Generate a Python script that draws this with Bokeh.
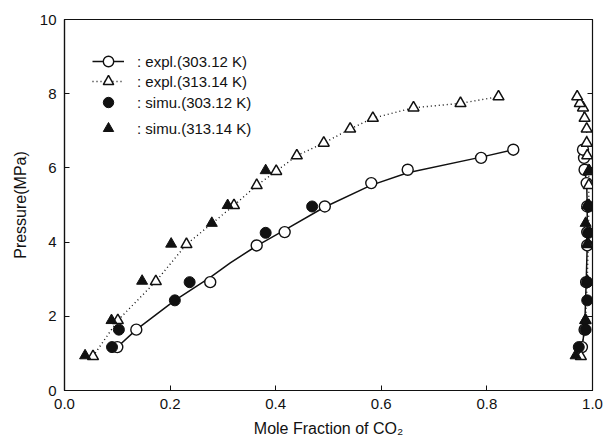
from bokeh.plotting import figure
from bokeh.models import Range1d, LinearAxis, FixedTicker, Legend, LegendItem, NumeralTickFormatter, CustomJSTickFormatter
from bokeh.embed import file_html
from bokeh.resources import INLINE

# ---- data ----
# experimental, 303.12 K, liquid branch (open circles)
exp303_liq_x = [0.100, 0.136, 0.276, 0.364, 0.417, 0.493, 0.581, 0.650, 0.789, 0.850]
exp303_liq_p = [1.17, 1.64, 2.92, 3.91, 4.27, 4.96, 5.59, 5.95, 6.27, 6.49]
# experimental, 303.12 K, vapour branch
exp303_vap_x = [0.980, 0.985, 0.988, 0.990, 0.990, 0.990, 0.989, 0.985, 0.984, 0.982]
exp303_vap_p = [1.17, 1.64, 2.92, 3.91, 4.27, 4.96, 5.59, 5.95, 6.27, 6.49]
# smooth curve drawn through 303.12 K liquid data (solid line)
fit303_x = [0.093, 0.136, 0.209, 0.276, 0.314, 0.364, 0.415, 0.492, 0.580, 0.650, 0.789, 0.850]
fit303_p = [1.08, 1.64, 2.43, 3.05, 3.44, 3.90, 4.31, 4.94, 5.53, 5.87, 6.29, 6.49]

# experimental, 313.14 K, liquid branch (open triangles)
exp313_liq_x = [0.054, 0.101, 0.173, 0.231, 0.321, 0.364, 0.401, 0.440, 0.491, 0.541, 0.584, 0.661, 0.750, 0.822]
exp313_liq_p = [0.92, 1.89, 2.94, 3.94, 4.99, 5.53, 5.91, 6.33, 6.67, 7.05, 7.34, 7.62, 7.74, 7.92]
# experimental, 313.14 K, vapour branch
exp313_vap_x = [0.978, 0.987, 0.990, 0.992, 0.993, 0.993, 0.993, 0.990, 0.989, 0.989, 0.985, 0.982, 0.976, 0.971]
exp313_vap_p = [0.92, 1.89, 2.94, 3.94, 4.99, 5.53, 5.91, 6.33, 6.67, 7.05, 7.34, 7.62, 7.74, 7.92]

# simulation, 303.12 K (filled circles)
sim303_liq_x = [0.090, 0.103, 0.209, 0.237, 0.381, 0.469]
sim303_liq_p = [1.17, 1.64, 2.43, 2.92, 4.25, 4.96]
sim303_vap_x = [0.974, 0.987, 0.990, 0.990, 0.992, 0.993]
sim303_vap_p = [1.17, 1.64, 2.43, 2.92, 4.25, 4.96]

# simulation, 313.14 K (filled triangles)
sim313_liq_x = [0.039, 0.089, 0.147, 0.202, 0.279, 0.309, 0.381]
sim313_liq_p = [0.94, 1.89, 2.95, 3.95, 4.51, 4.99, 5.93]
sim313_vap_x = [0.968, 0.986, 0.990, 0.990, 0.987, 0.990, 0.994]
sim313_vap_p = [0.94, 1.89, 2.95, 3.95, 4.51, 4.99, 5.93]

x_ticks = [0.0, 0.2, 0.4, 0.6, 0.8, 1.0]
y_ticks = [0, 2, 4, 6, 8, 10]

labels = [": expl.(303.12 K)", ": expl.(313.14 K)", ": simu.(303.12 K)", ": simu.(313.14 K)"]
x_label = "Mole Fraction of CO\u2082"
y_label = "Pressure(MPa)"

FONT = "Liberation Sans"
INK = "#111111"

p = figure(width=603, height=446, x_range=Range1d(0, 1), y_range=Range1d(0, 10),
           output_backend="svg", toolbar_location=None,
           min_border_left=64, min_border_right=11, min_border_top=19, min_border_bottom=56)
p.background_fill_color = "white"
p.border_fill_color = "white"
p.outline_line_color = INK
p.outline_line_width = 1.2
p.xgrid.visible = False
p.ygrid.visible = False

for ax in (p.xaxis[0], p.yaxis[0]):
    ax.major_tick_in = 5
    ax.major_tick_out = 0
    ax.minor_tick_line_color = None
    ax.axis_line_color = INK
    ax.axis_line_width = 1.2
    ax.major_tick_line_color = INK
    ax.major_label_text_font = FONT
    ax.major_label_text_font_size = "15px"
    ax.major_label_text_color = INK
    ax.axis_label_text_font = FONT
    ax.axis_label_text_font_size = "16px"
    ax.axis_label_text_font_style = "normal"
    ax.axis_label_text_color = INK
    ax.major_label_standoff = 8

p.xaxis[0].ticker = FixedTicker(ticks=x_ticks)
p.xaxis[0].formatter = NumeralTickFormatter(format="0.0")
p.xaxis[0].axis_label = x_label
p.xaxis[0].axis_label_standoff = 8
p.yaxis[0].ticker = FixedTicker(ticks=y_ticks)
p.yaxis[0].formatter = NumeralTickFormatter(format="0")
p.yaxis[0].axis_label = y_label
p.yaxis[0].axis_label_standoff = 8

right = LinearAxis(ticker=FixedTicker(ticks=y_ticks), major_tick_in=5, major_tick_out=0,
                   minor_tick_line_color=None,
                   formatter=CustomJSTickFormatter(code="return ''"),
                   major_label_standoff=0, axis_line_color=INK, major_tick_line_color=INK)
p.add_layout(right, "right")

# lines
r_fit = p.line(fit303_x, fit303_p, line_color=INK, line_width=1.5)
p.line(exp303_vap_x, exp303_vap_p, line_color=INK, line_width=1.5)
r_dot = p.line(exp313_liq_x, exp313_liq_p, line_color=INK, line_width=1.4, line_dash="1 3")
p.line(exp313_vap_x, exp313_vap_p, line_color=INK, line_width=1.4, line_dash="1 3")

# markers
r_e303 = p.scatter(exp303_liq_x, exp303_liq_p, marker="circle", size=11, fill_color="white", line_color=INK, line_width=1.4)
p.scatter(exp303_vap_x, exp303_vap_p, marker="circle", size=11, fill_color="white", line_color=INK, line_width=1.4)
r_e313 = p.scatter(exp313_liq_x, exp313_liq_p, marker="triangle", size=11, fill_color="white", line_color=INK, line_width=1.5)
p.scatter(exp313_vap_x, exp313_vap_p, marker="triangle", size=11, fill_color="white", line_color=INK, line_width=1.5)
r_s303 = p.scatter(sim303_liq_x, sim303_liq_p, marker="circle", size=11, fill_color=INK, line_color=INK)
p.scatter(sim303_vap_x, sim303_vap_p, marker="circle", size=11, fill_color=INK, line_color=INK)
r_s313 = p.scatter(sim313_liq_x, sim313_liq_p, marker="triangle", size=11, fill_color=INK, line_color=INK)
p.scatter(sim313_vap_x, sim313_vap_p, marker="triangle", size=11, fill_color=INK, line_color=INK)

def make_legend(items, loc):
    lg = Legend(items=items, location=loc, orientation="vertical",
                glyph_width=32, glyph_height=26, spacing=0, padding=2,
                label_standoff=13, label_text_font=FONT, label_text_font_size="15px",
                label_text_color=INK, border_line_color=None, background_fill_alpha=0)
    return lg

legend_renderers = [[r_fit, r_e303], [r_dot, r_e313], [r_s303], [r_s313]]
legend_locs = [(28, 316), (28, 296), (28, 275), (28, 249)]
for lab, rends, loc in zip(labels, legend_renderers, legend_locs):
    p.add_layout(make_legend([LegendItem(label=lab, renderers=rends)], loc))

open("out.html", "w").write(file_html(p, INLINE))
